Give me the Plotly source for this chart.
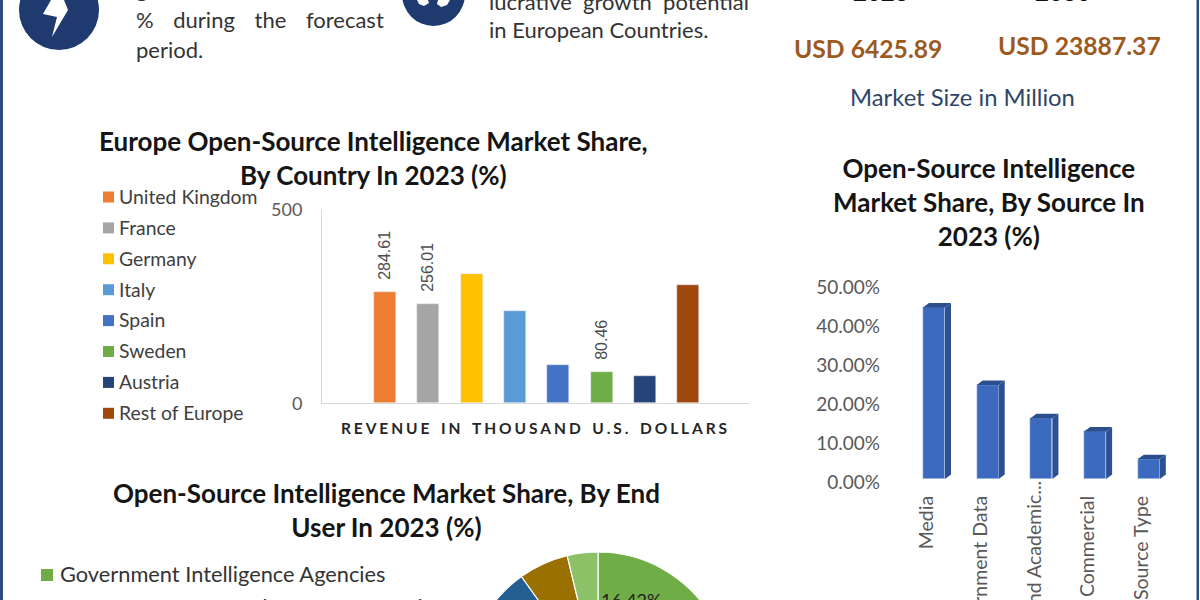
import plotly.graph_objects as go

countries = ["United Kingdom", "France", "Germany", "Italy", "Spain", "Sweden", "Austria", "Rest of Europe"]
revenue = [284.61, 256.01, 332, 238, 98, 80.46, 70, 304]
revenue_labels = ["\u00a0\u00a0284.61", "\u00a0\u00a0256.01", "", "", "", "\u00a0\u00a080.46", "", ""]
country_colors = ["#ED7D31", "#A5A5A5", "#FFC000", "#5B9BD5", "#4472C4", "#70AD47", "#264478", "#9E480E"]

sources = ["Media", "Government Data", "Research and Academic...", "Commercial", "Open Source Type"]
source_share = [44.0, 24.1, 15.6, 12.2, 5.1]
source_pad = ["\u00a0" * 3, "\u00a0" * 3, "", "\u00a0" * 3, "\u00a0" * 3]
share_ticks = [0, 10, 20, 30, 40, 50]

end_users = ["Government Intelligence Agencies", "Law Enforcement and Defense Agencies", "Private Sector Enterprises",
             "Financial Institutions", "Academic Institutions", "Media Organizations", "Cybersecurity Firms"]
end_user_share = [16.42, 25, 22, 15, 11.73, 6.1, 3.75]
end_user_colors = ["#70AD47", "#ED7D31", "#A5A5A5", "#FFC000", "#255E91", "#9A7000", "#8CC168"]

W, H = 1200, 820
NAVY = "#1F3A6E"
FONT = "Lato"
TICK = "#595959"


def py(p):
    return 1 - p / H


def px(p):
    return p / W


annotations = []
shapes = []


def label(text, x, y, size, color, bold=False, anchor="center", family=FONT, angle=0):
    annotations.append(dict(text=f"<b>{text}</b>" if bold else text, x=px(x), y=py(y), xref="paper", yref="paper",
                            xanchor=anchor, yanchor="middle", showarrow=False, textangle=angle,
                            font=dict(family=family, size=size, color=color)))


def box(x0, y0, x1, y1, color):
    shapes.append(dict(type="rect", xref="paper", yref="paper", x0=px(x0), x1=px(x1), y0=py(y0), y1=py(y1),
                       fillcolor=color, line_width=0, layer="above"))


def disc(x0, y0, x1, y1, color):
    shapes.append(dict(type="circle", xref="paper", yref="paper", x0=px(x0), x1=px(x1), y0=py(y0), y1=py(y1),
                       fillcolor=color, line_width=0, layer="above"))


def poly(points, color):
    d = "M" + " L".join(f"{px(a):.5f},{py(b):.5f}" for a, b in points) + " Z"
    shapes.append(dict(type="path", xref="paper", yref="paper", path=d, fillcolor=color, line_width=0, layer="above"))


# frame
box(0, 0, 3, 600, "#2B4A7E")
box(1196.5, 0, 1199, 600, "#2B4A7E")

# header icons
disc(19, -30, 99, 50, NAVY)
poly([(51, 0), (43, 14), (57, 17), (52, 37), (68, 10), (64, 0)], "white")
disc(402, -38, 465, 26, NAVY)
poly([(417, 0), (428, 0), (429, 3), (424, 6), (419, 4)], "white")
poly([(438, 0), (450, 0), (447, 5), (441, 7), (437, 4)], "white")

# header text
NB = "\u00a0"
GAP = NB * 3 + "\u2009"
BODY = 22
label(f"growth{NB*2}at{NB*2}a{NB*2}CAGR{NB*2}of{NB*2}20.63", 134, -11, BODY, "#333333", anchor="left")
label(f"%{GAP}during{GAP}the{GAP}forecast", 134, 19, BODY, "#333333", anchor="left")
label("period.", 134, 49, BODY, "#333333", anchor="left")
label(f"lucrative{NB*2}growth{NB*2}potential", 487, 1, BODY, "#333333", anchor="left")
label("in European Countries.", 487, 29, BODY, "#333333", anchor="left")
label("2023", 881, -8, 24, "#111111", bold=True)
label("2030", 1063, -8, 24, "#111111", bold=True)
label("USD 6425.89", 868, 48, 24.7, "#9C5A1F", bold=True)
label("USD 23887.37", 1079, 45, 24.7, "#9C5A1F", bold=True)
label("Market Size in Million", 962, 97, 23.8, "#2F4668")

# titles
label("Europe Open-Source Intelligence Market Share,<br>By Country In 2023 (%)", 373, 157.5, 26, "#151515", bold=True)
label("Open-Source Intelligence<br>Market Share, By Source In<br>2023 (%)", 989, 201.5, 26, "#151515", bold=True)
label("Open-Source Intelligence Market Share, By End<br>User In 2023 (%)", 386, 509.5, 26, "#151515", bold=True)

# country legend
for i, (name, color) in enumerate(zip(countries, country_colors)):
    yc = 197 + 30.9 * i
    box(103, yc - 5.5, 114, yc + 5.5, color)
    label(name, 117, yc - 0.7, 19.4, "#404040", anchor="left")

# end user legend
for i, (name, color) in enumerate(zip(end_users, end_user_colors)):
    yc = 575 + 33 * i
    box(41, yc - 6, 53, yc + 6, color)
    label(name, 58, yc - 1.5, 21.8, "#333333", anchor="left")

SP = "\u2009\u200a"
label(SP.join("REVENUE") + "\u2003" + SP.join("IN") + "\u2003" + SP.join("THOUSAND") + "\u2003"
      + SP.join("U.S.") + "\u2003" + SP.join("DOLLARS"), 533.5, 428, 15.5, "#262626", bold=True)
label(f"{end_user_share[0]:.2f}%", 631, 600, 18, "#222222")

fig = go.Figure()

# country bars
fig.add_trace(go.Bar(x=countries, y=revenue, marker_color=country_colors, width=0.508, text=revenue_labels,
                     textposition="outside", textangle=-90, cliponaxis=False, showlegend=False, constraintext="none",
                     textfont=dict(family="Liberation Sans", size=16, color="#4D4D4D"), xaxis="x", yaxis="y"))

# source bars, with the depth faces worked out from the same values
positions = list(range(len(sources)))
bar_w = 0.41
dx, dy = 0.112, 1.15
top_x, top_y, side_x, side_y = [], [], [], []
for p, v in zip(positions, source_share):
    l, r = p - bar_w / 2, p + bar_w / 2
    top_x += [l, l + dx, r + dx, r, None]
    top_y += [v, v + dy, v + dy, v, None]
    side_x += [r, r + dx, r + dx, r, None]
    side_y += [v, v + dy, dy, 0, None]
for xs, ys, color in ((top_x, top_y, "#2B4E8E"), (side_x, side_y, "#2C5092")):
    fig.add_trace(go.Scatter(x=xs, y=ys, mode="lines", fill="toself", fillcolor=color, line=dict(width=0),
                             showlegend=False, hoverinfo="skip", xaxis="x2", yaxis="y2", cliponaxis=False))
fig.add_trace(go.Bar(x=positions, y=source_share, width=bar_w, marker_color="#3C6ABF", showlegend=False,
                     xaxis="x2", yaxis="y2"))

# end user pie, clipped by the bottom of the page
fig.add_trace(go.Pie(labels=end_users, values=end_user_share, sort=False, direction="clockwise", rotation=0,
                     marker=dict(colors=end_user_colors, line=dict(color="white", width=1.2)), textinfo="none",
                     showlegend=False, domain=dict(x=[px(466), px(730)], y=[py(816), py(552)])))

grid = "#D9D9D9"
span = 43.3
fig.update_layout(
    width=W, height=H, margin=dict(l=0, r=0, t=0, b=0), paper_bgcolor="white", plot_bgcolor="rgba(0,0,0,0)",
    bargap=0, showlegend=False, annotations=annotations, shapes=shapes,
    font=dict(family=FONT),
    xaxis=dict(domain=[px(322), px(749)], range=[(322 - 385) / span, (749 - 385) / span], type="category",
               categoryorder="array", categoryarray=countries, showticklabels=False, ticks="", showgrid=False,
               showline=True, linecolor=grid, linewidth=1, mirror=False, zeroline=False, anchor="y", automargin=False),
    yaxis=dict(domain=[py(402.7), py(209)], range=[0, 500], tickvals=[0, 500], showgrid=False, zeroline=False,
               showline=True, linecolor=grid, linewidth=1, ticks="", ticklabelstandoff=15, ticklabelshift=1,
               automargin=False, tickfont=dict(family=FONT, size=18, color=TICK), anchor="x"),
    xaxis2=dict(domain=[px(884), px(1175)], range=[(884 - 934) / 53.7, (1175 - 934) / 53.7],
                tickvals=positions, ticktext=[s + pad for s, pad in zip(sources, source_pad)], tickangle=-90,
                showgrid=False, zeroline=False, showline=False, ticks="", ticklabelshift=-7, ticklabelstandoff=-3,
                automargin=False, tickfont=dict(family=FONT, size=19.5, color=TICK), anchor="y2"),
    yaxis2=dict(domain=[py(479), py(284)], range=[0, 50], tickvals=share_ticks,
                ticktext=[f"{v:.2f}%" for v in share_ticks], showgrid=False, zeroline=False, showline=False,
                ticks="", ticklabelshift=3, ticklabelstandoff=3, automargin=False,
                tickfont=dict(family=FONT, size=19, color=TICK), anchor="x2"),
)

fig.write_html("out.html", config=dict(displayModeBar=False),
               post_script="document.body.style.margin='0';document.body.style.overflow='hidden';"
                           "document.documentElement.style.overflow='hidden';")
